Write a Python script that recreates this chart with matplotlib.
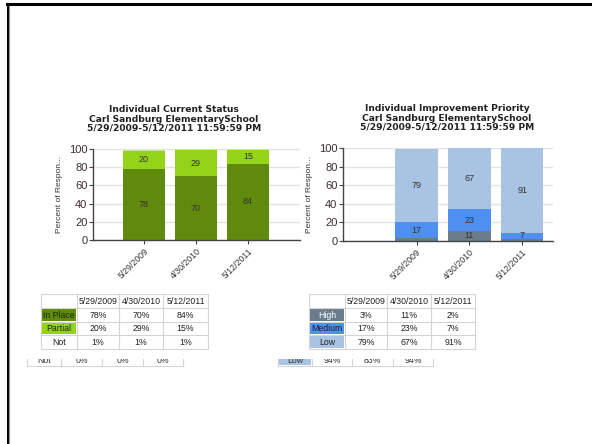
import matplotlib
matplotlib.use('Agg')
import matplotlib.pyplot as plt
from matplotlib.patches import Rectangle
from matplotlib.lines import Line2D

W, H = 592, 444

dates = ['5/29/2009', '4/30/2010', '5/12/2011']

# Individual Current Status
status_names = ['In Place', 'Partial', 'Not']
in_place = [78, 70, 84]
partial = [20, 29, 15]
not_in = [1, 1, 1]
not_prev = [0, 0, 0]

# Individual Improvement Priority
priority_names = ['High', 'Medium', 'Low']
high = [3, 11, 2]
medium = [17, 23, 7]
low = [79, 67, 91]
low_prev = [94, 83, 94]

C_INPLACE = '#5f8a0b'
C_PARTIAL = '#93d418'
C_NOT = '#c8e890'
C_HIGH = '#6b7d8b'
C_MED = '#4f8ff0'
C_LOW = '#a9c3e3'

TITLE_FONT = 'DejaVu Sans'
FONT = 'Liberation Sans'

fig = plt.figure(figsize=(W / 100, H / 100), dpi=100)


def pix_axes(x0, y0, x1, y1):
    return fig.add_axes([x0 / W, 1 - y1 / H, (x1 - x0) / W, (y1 - y0) / H])


def stacked_chart(ax, series, colors, labels_min, title, xlim, title_x):
    xs = list(range(len(dates)))
    bottom = [0] * len(dates)
    for vals, col in zip(series, colors):
        ax.bar(xs, vals, 0.8, bottom=bottom, color=col, edgecolor='none', zorder=2)
        for x, v, b in zip(xs, vals, bottom):
            if v >= labels_min:
                ax.text(x, b + v / 2, '{:d}'.format(v), ha='center', va='center',
                        fontsize=6.5, color='#333333', family=FONT, zorder=3)
        bottom = [b + v for b, v in zip(bottom, vals)]
    ax.set_ylim(0, 100)
    ax.set_xlim(*xlim)
    ax.set_yticks(range(0, 101, 20))
    ax.set_xticks(xs)
    ax.set_xticklabels(dates, rotation=45, ha='right', rotation_mode='anchor',
                       fontsize=6.3, family=FONT, color='#333333')
    for lab in ax.get_yticklabels():
        lab.set_family(FONT)
        lab.set_fontsize(8)
        lab.set_color('#3a2e2e')
    ax.tick_params(axis='y', length=3, width=0.8, color='#444444', pad=1)
    ax.tick_params(axis='x', length=3, width=0.8, color='#444444', pad=2)
    ax.yaxis.grid(True, color='#e2e2e2', linewidth=1.0, zorder=0)
    ax.set_axisbelow(True)
    for s in ('top', 'right'):
        ax.spines[s].set_visible(False)
    for s in ('left', 'bottom'):
        ax.spines[s].set_color('#444444')
        ax.spines[s].set_linewidth(1.0)
    ax.set_ylabel('Percent of Respon...', fontsize=6, family=FONT, color='#333333', labelpad=4)
    ax.set_title(title, fontsize=6.6, fontweight='bold', family=TITLE_FONT,
                 color='#222222', pad=13, linespacing=1.05, x=title_x)


ax1 = pix_axes(93, 149, 300, 240)
stacked_chart(ax1, [in_place, partial, not_in], [C_INPLACE, C_PARTIAL, C_NOT], 5,
              'Individual Current Status\nCarl Sandburg ElementarySchool\n'
              '5/29/2009-5/12/2011 11:59:59 PM', (-0.98, 3.0), 0.39)

ax2 = pix_axes(343, 148, 553, 241)
stacked_chart(ax2, [high, medium, low], [C_HIGH, C_MED, C_LOW], 5,
              'Individual Improvement Priority\nCarl Sandburg ElementarySchool\n'
              '5/29/2009-5/12/2011 11:59:59 PM', (-1.39, 2.58), 0.495)

# overlay in pixel coordinates for tables and frame
ov = fig.add_axes([0, 0, 1, 1], zorder=10)
ov.set_xlim(0, W)
ov.set_ylim(H, 0)
ov.axis('off')
ov.patch.set_visible(False)

ov.add_line(Line2D([7, W], [4.5, 4.5], color='black', linewidth=2.2))
ov.add_line(Line2D([7.5, 7.5], [4, H], color='black', linewidth=2.2))
ov.add_line(Line2D([9.3, 9.3], [6, H], color='#999999', linewidth=0.8))

GRID = '#d4d4d4'
TFS = 6.3


def table(cols, rows, names, name_bg, name_fg, values):
    x0, x1 = cols[0], cols[-1]
    y0, y1 = rows[0], rows[-1]
    ov.add_patch(Rectangle((x0 + 1, y0 + 1), x1 - x0, y1 - y0, facecolor='#eeeeee',
                           edgecolor='none'))
    ov.add_patch(Rectangle((x0, y0), x1 - x0, y1 - y0, facecolor='white',
                           edgecolor=GRID, linewidth=0.8))
    for i in range(len(names)):
        ov.add_patch(Rectangle((cols[0] + 1, rows[i + 1] + 1), cols[1] - cols[0] - 2,
                               rows[i + 2] - rows[i + 1] - 2, facecolor=name_bg[i],
                               edgecolor='none'))
    for c in cols[1:-1]:
        ov.add_line(Line2D([c, c], [y0, y1], color=GRID, linewidth=0.8))
    for r in rows[1:-1]:
        ov.add_line(Line2D([x0, x1], [r, r], color=GRID, linewidth=0.8))
    for j, d in enumerate(dates):
        ov.text((cols[j + 1] + cols[j + 2]) / 2, (rows[0] + rows[1]) / 2 + 0.5, d,
                ha='center', va='center', fontsize=TFS, family=FONT, color='#222222')
    for i, name in enumerate(names):
        yc = (rows[i + 1] + rows[i + 2]) / 2 + 0.5
        ov.text((cols[0] + cols[1]) / 2, yc, name, ha='center', va='center',
                fontsize=TFS, family=FONT, color=name_fg[i])
        for j, v in enumerate(values[i]):
            ov.text((cols[j + 1] + cols[j + 2]) / 2, yc, '{:d}%'.format(v),
                    ha='center', va='center', fontsize=TFS, family=FONT, color='#222222')


def cut_row(cols, name, bg, vals):
    # a table row whose upper half is hidden by the page cut
    top, bot = 358.5, 366
    if bg is not None:
        ov.add_patch(Rectangle((cols[0] + 1, top), cols[1] - cols[0] - 2, bot - top - 1,
                               facecolor=bg, edgecolor='none', zorder=1))
    for c in cols:
        ov.add_line(Line2D([c, c], [top, bot], color=GRID, linewidth=0.8))
    ov.add_line(Line2D([cols[0], cols[-1]], [bot, bot], color=GRID, linewidth=0.8))
    texts = [name] + ['{:d}%'.format(v) for v in vals]
    for j, s in enumerate(texts):
        ov.text((cols[j] + cols[j + 1]) / 2, 360.5, s, ha='center', va='center',
                fontsize=TFS, family=FONT, color='#333333', zorder=2)
    ov.add_patch(Rectangle((cols[0] - 1, 351), cols[-1] - cols[0] + 3, top - 351,
                           facecolor='white', edgecolor='none', zorder=3))


rows = [294, 308, 321.5, 335, 348.5]
table([41, 77, 119, 163, 208], rows, status_names,
      [C_INPLACE, C_PARTIAL, 'white'], ['#1c2a00', '#1c2a00', '#222222'],
      [in_place, partial, not_in])
table([309, 345, 387, 431, 475], rows, priority_names,
      [C_HIGH, C_MED, C_LOW], ['white', '#0d1f40', '#222222'],
      [high, medium, low])

cut_row([27, 61, 102, 143, 183], 'Not', None, not_prev)
cut_row([278, 312, 352, 393, 433], 'Low', C_LOW, low_prev)

fig.savefig('out.png', dpi=100, facecolor='white')
